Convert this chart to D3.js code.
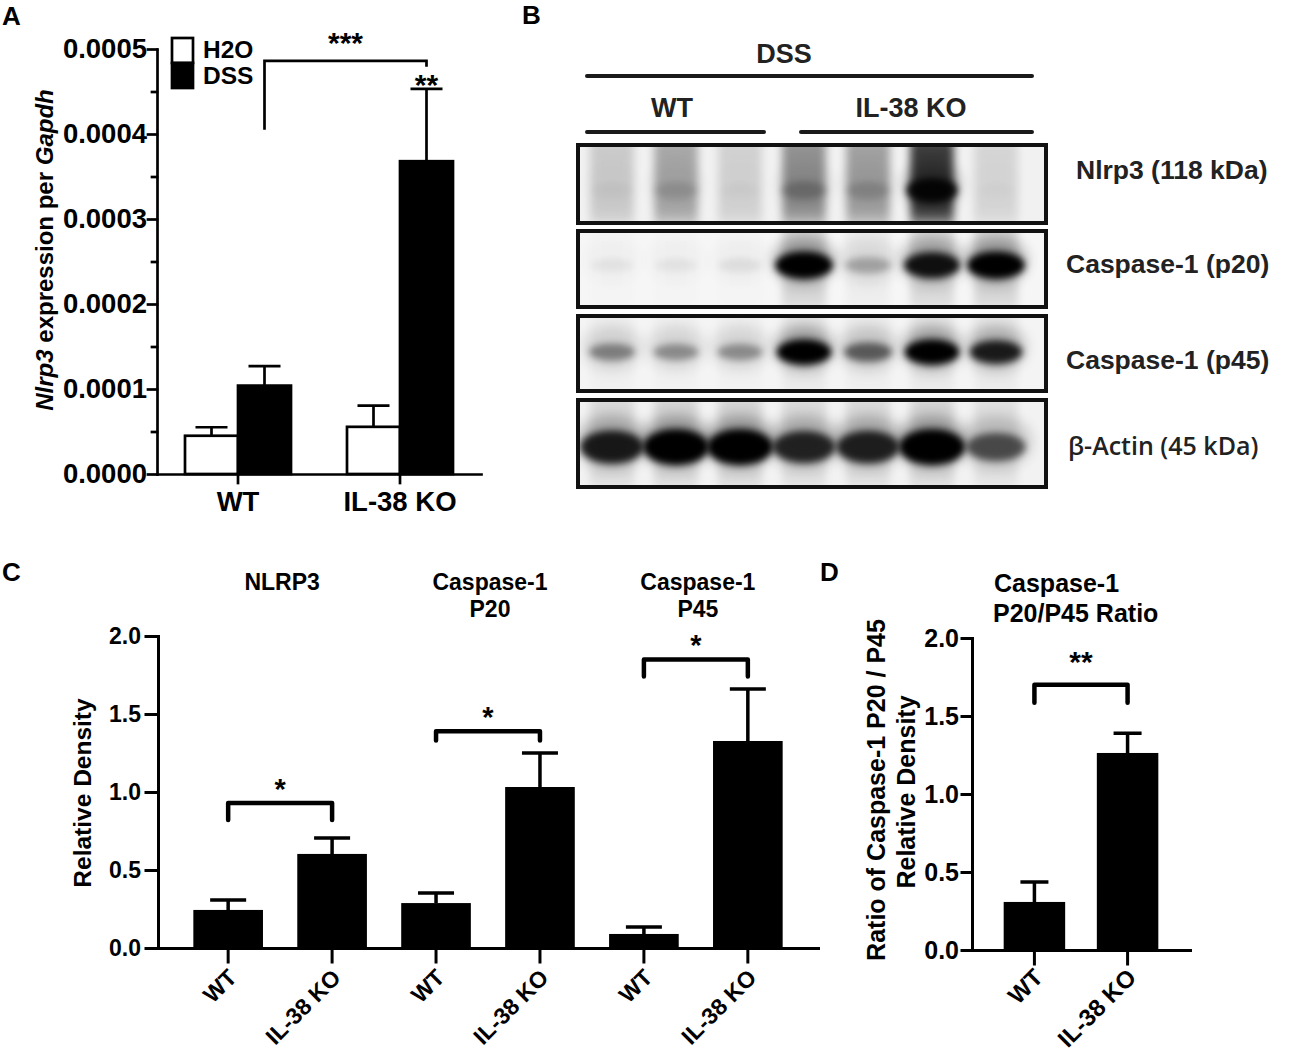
<!DOCTYPE html>
<html>
<head>
<meta charset="utf-8">
<script src="https://cdn.jsdelivr.net/npm/d3@7"></script>
<style>
body { margin: 0; background: #fff; }
svg text { font-family: "Liberation Sans", Arial, Helvetica, sans-serif; font-weight: bold; }
</style>
</head>
<body>
<div id="chart"></div>
<script>
// ---- panel A: qPCR ----
const groupsA = ["WT", "IL-38 KO"];
const treatmentsA = ["H2O", "DSS"];
const h2oMean = [0.000045, 0.0000555];
const h2oSem = [0.000010, 0.000025];
const dssMean = [0.000104, 0.000368];
const dssSem = [0.000023, 0.000085];
const ticksA = [0, 0.0001, 0.0002, 0.0003, 0.0004, 0.0005];
const minorTicksA = [0.00005, 0.00015, 0.00025, 0.00035, 0.00045];
const bracketA = [0.000405, 0.000486, 0.000479]; // left leg, top, right leg

// ---- panel B: western blot (band darkness 0..1 per lane) ----
const lanes = ["WT-1", "WT-2", "WT-3", "KO-1", "KO-2", "KO-3", "KO-4"];
const blotLabels = ["Nlrp3 (118 kDa)", "Caspase-1 (p20)", "Caspase-1 (p45)", "β-Actin (45 kDa)"];
const nlrp3Signal = [0.2, 0.38, 0.16, 0.5, 0.42, 0.95, 0.14];
const p20Signal = [0.05, 0.05, 0.07, 1.0, 0.26, 0.9, 1.0];
const p45Signal = [0.4, 0.35, 0.35, 1.0, 0.55, 1.0, 0.85];
const actinSignal = [0.85, 1.0, 1.0, 0.8, 0.82, 1.0, 0.6];

// ---- panel C: densitometry ----
const proteinsC = [["NLRP3"], ["Caspase-1", "P20"], ["Caspase-1", "P45"]];
const genotypes = ["WT", "IL-38 KO"];
const wtDensity = [0.244, 0.288, 0.090];
const wtSem = [0.064, 0.064, 0.045];
const koDensity = [0.603, 1.032, 1.327];
const koSem = [0.102, 0.218, 0.333];
const sigC = ["*", "*", "*"];
const bracketTopC = [0.93, 1.39, 1.85];
const bracketLegC = [0.82, 1.33, 1.74];
const ticksCD = [0, 0.5, 1.0, 1.5, 2.0];

// ---- panel D: p20/p45 ratio ----
const ratioMean = [0.308, 1.263];
const ratioSem = [0.128, 0.127];
const sigD = "**";
const bracketD = [1.585, 1.70];

const svg = d3.select("#chart").append("svg")
    .attr("width", 1301)
    .attr("height", 1053);

function styleAxis(g, fs, sw) {
    g.attr("font-size", fs).attr("font-family", null);
    g.selectAll("path, line").attr("stroke", "#000").attr("stroke-width", sw).attr("stroke-linecap", "square");
    g.selectAll("text").attr("fill", "#000");
}

// panel letters
svg.append("text").attr("x", 2).attr("y", 25).attr("font-size", 26).text("A");
svg.append("text").attr("x", 522).attr("y", 24).attr("font-size", 26).text("B");
svg.append("text").attr("x", 2).attr("y", 581).attr("font-size", 26).text("C");
svg.append("text").attr("x", 820).attr("y", 581).attr("font-size", 26).text("D");

// ================= A =================
const gA = svg.append("g");
const xA = d3.scaleBand().domain(groupsA).range([157, 481]);
const xA2 = d3.scaleBand().domain(treatmentsA).range([-53, 53]);
const yA = d3.scaleLinear().domain([0, 0.0005]).range([474, 49]);

const rowsA = groupsA.flatMap((g, i) => [
    { g, t: "H2O", m: h2oMean[i], s: h2oSem[i] },
    { g, t: "DSS", m: dssMean[i], s: dssSem[i] }
]);
const cxA = d => xA(d.g) + xA.bandwidth() / 2 + xA2(d.t) + xA2.bandwidth() / 2;

// error bars (behind bars)
gA.selectAll(".errA").data(rowsA).enter().append("path")
    .attr("d", d => `M${cxA(d)},${yA(d.m)}V${yA(d.m + d.s)}M${cxA(d) - 16},${yA(d.m + d.s)}H${cxA(d) + 16}`)
    .attr("stroke", "#000").attr("stroke-width", 2.7).attr("fill", "none");

gA.selectAll(".barA").data(rowsA).enter().append("rect")
    .attr("x", d => xA(d.g) + xA.bandwidth() / 2 + xA2(d.t))
    .attr("width", xA2.bandwidth())
    .attr("y", d => yA(d.m))
    .attr("height", d => yA(0) - yA(d.m))
    .attr("fill", d => d.t === "H2O" ? "#fff" : "#000")
    .attr("stroke", "#000").attr("stroke-width", 2.7);

gA.append("g").attr("transform", "translate(157,0)")
    .call(d3.axisLeft(yA).tickValues(minorTicksA).tickSize(5).tickFormat(""))
    .call(g => { styleAxis(g, 26, 2.7); g.select(".domain").remove(); });
gA.append("g").attr("transform", "translate(157,0)")
    .call(d3.axisLeft(yA).tickValues(ticksA).tickFormat(d3.format(".4f")).tickSize(9).tickPadding(1).tickSizeOuter(0))
    .call(g => styleAxis(g, 27.5, 2.7));
gA.append("g").attr("transform", "translate(0,474)")
    .call(d3.axisBottom(xA).tickSize(9).tickPadding(8).tickSizeOuter(0))
    .call(g => styleAxis(g, 27.5, 2.7));

gA.append("text")
    .attr("transform", "translate(53,250) rotate(-90)")
    .attr("text-anchor", "middle").attr("font-size", 24)
    .call(t => {
        t.append("tspan").attr("font-style", "italic").text("Nlrp3");
        t.append("tspan").text(" expression per ");
        t.append("tspan").attr("font-style", "italic").text("Gapdh");
    });

// legend
const legA = gA.append("g");
legA.selectAll("rect").data(treatmentsA).enter().append("rect")
    .attr("x", 172).attr("width", 21)
    .attr("y", (d, i) => 38 + i * 25).attr("height", 25)
    .attr("fill", d => d === "H2O" ? "#fff" : "#000")
    .attr("stroke", "#000").attr("stroke-width", 2.7);
legA.selectAll("text").data(treatmentsA).enter().append("text")
    .attr("x", 203).attr("y", (d, i) => 58 + i * 26)
    .attr("font-size", 24.5).text(d => d);

// significance
const wtDss = rowsA[1], koDss = rowsA[3];
gA.append("path")
    .attr("d", `M${cxA(wtDss)},${yA(bracketA[0])}V${yA(bracketA[1])}H${cxA(koDss)}V${yA(bracketA[2])}`)
    .attr("fill", "none").attr("stroke", "#000").attr("stroke-width", 2.7);
gA.append("text").attr("x", (cxA(wtDss) + cxA(koDss)) / 2).attr("y", yA(bracketA[1]) - 8)
    .attr("text-anchor", "middle").attr("font-size", 30).text("***");
gA.append("text").attr("x", cxA(koDss)).attr("y", yA(koDss.m + koDss.s) + 6)
    .attr("text-anchor", "middle").attr("font-size", 30).text("**");

// ================= B =================
const gB = svg.append("g");
const xLane = d3.scalePoint().domain(lanes).range([612, 996]);
const laneStep = xLane.step();
const boxX = [578, 1046];
const boxY = [[145, 223], [231, 307], [316, 391], [400, 487]];
const bandPos = [0.58, 0.45, 0.48, 0.54];
const bandSize = [0.9, 1.0, 0.95, 1.15];
const smearAmt = [0.8, 0.14, 0.05, 0.12];
const coreGamma = [2.2, 1, 1, 1];
const bgFill = ["#f1f1f1", "#f6f6f6", "#f4f4f4", "#f2f2f2"];
const labelPos = [[1076, 179], [1066, 273], [1066, 369], [1068, 455]];
const signals = [nlrp3Signal, p20Signal, p45Signal, actinSignal];

const defs = svg.append("defs");
defs.append("filter").attr("id", "blurCore").attr("x", "-50%").attr("y", "-50%").attr("width", "200%").attr("height", "200%")
    .append("feGaussianBlur").attr("stdDeviation", 3.5);
defs.append("filter").attr("id", "blurHalo").attr("x", "-50%").attr("y", "-50%").attr("width", "200%").attr("height", "200%")
    .append("feGaussianBlur").attr("stdDeviation", 7);
defs.append("filter").attr("id", "blurSmear").attr("x", "-50%").attr("y", "-50%").attr("width", "200%").attr("height", "200%")
    .append("feGaussianBlur").attr("stdDeviation", "4 9");

gB.append("text").attr("x", 784).attr("y", 63).attr("text-anchor", "middle")
    .attr("font-size", 27).attr("fill", "#222").text("DSS");
gB.append("path").attr("d", `M587,76H1032`).attr("stroke", "#1a1a1a").attr("stroke-width", 4).attr("stroke-linecap", "round");
gB.append("text").attr("x", d3.mean(lanes.slice(0, 3), xLane) - 4).attr("y", 117).attr("text-anchor", "middle")
    .attr("font-size", 27).attr("fill", "#222").text("WT");
gB.append("text").attr("x", d3.mean(lanes.slice(3), xLane) + 11).attr("y", 117).attr("text-anchor", "middle")
    .attr("font-size", 27).attr("fill", "#222").text("IL-38 KO");
gB.append("path").attr("d", `M587,132H764M801,132H1032`).attr("stroke", "#1a1a1a").attr("stroke-width", 4).attr("stroke-linecap", "round");

signals.forEach((sig, r) => {
    const [y0, y1] = boxY[r];
    const h = y1 - y0;
    const cy = y0 + h * bandPos[r];
    defs.append("clipPath").attr("id", "clip" + r)
        .append("rect").attr("x", boxX[0]).attr("y", y0).attr("width", boxX[1] - boxX[0]).attr("height", h);
    const g = gB.append("g").attr("clip-path", `url(#clip${r})`);
    g.append("rect").attr("x", boxX[0]).attr("y", y0).attr("width", boxX[1] - boxX[0]).attr("height", h)
        .attr("fill", bgFill[r]);
    const data = lanes.map((l, i) => ({ l, s: sig[i] }));
    g.selectAll(".smear").data(data).enter().append("rect")
        .attr("x", d => xLane(d.l) - laneStep * 0.34).attr("width", laneStep * 0.68)
        .attr("y", y0 - 12).attr("height", h * 0.85 + 24)
        .attr("fill", "#000").attr("opacity", d => d.s * smearAmt[r])
        .attr("filter", "url(#blurSmear)");
    g.selectAll(".halo").data(data).enter().append("ellipse")
        .attr("cx", d => xLane(d.l)).attr("cy", cy - h * 0.06)
        .attr("rx", laneStep * 0.48 * bandSize[r]).attr("ry", h * 0.3)
        .attr("fill", "#000").attr("opacity", d => Math.pow(d.s, coreGamma[r]) * 0.3)
        .attr("filter", "url(#blurHalo)");
    g.selectAll(".core").data(data).enter().append("ellipse")
        .attr("cx", d => xLane(d.l)).attr("cy", cy)
        .attr("rx", d => laneStep * (0.33 + 0.12 * d.s) * bandSize[r])
        .attr("ry", d => h * (0.08 + 0.1 * d.s) * bandSize[r])
        .attr("fill", "#000").attr("opacity", d => Math.min(1, Math.pow(d.s, coreGamma[r])))
        .attr("filter", "url(#blurCore)");
    gB.append("rect").attr("x", boxX[0]).attr("y", y0).attr("width", boxX[1] - boxX[0]).attr("height", h)
        .attr("fill", "none").attr("stroke", "#111").attr("stroke-width", 4);
    const lab = gB.append("text").attr("x", labelPos[r][0]).attr("y", labelPos[r][1])
        .attr("font-size", 26.5).attr("fill", "#222").text(blotLabels[r]);
    if (r === 3) lab.style("font-family", "'Open Sans', Lato, sans-serif").style("font-weight", "600").attr("font-size", 25);
});

// ================= C =================
const gC = svg.append("g");
const rowsC = proteinsC.flatMap((p, i) => [
    { key: p.join(" ") + "|WT", p: i, m: wtDensity[i], s: wtSem[i] },
    { key: p.join(" ") + "|IL-38 KO", p: i, m: koDensity[i], s: koSem[i] }
]);
const xC = d3.scaleBand().domain(rowsC.map(d => d.key)).range([158, 818]).paddingInner(0.33).paddingOuter(0.34);
const yC = d3.scaleLinear().domain([0, 2]).range([948, 636]);
const cxC = k => xC(k) + xC.bandwidth() / 2;

gC.selectAll(".errC").data(rowsC).enter().append("path")
    .attr("d", d => `M${cxC(d.key)},${yC(d.m)}V${yC(d.m + d.s)}M${cxC(d.key) - 18},${yC(d.m + d.s)}H${cxC(d.key) + 18}`)
    .attr("stroke", "#000").attr("stroke-width", 3.5).attr("fill", "none");
gC.selectAll(".barC").data(rowsC).enter().append("rect")
    .attr("x", d => xC(d.key)).attr("width", xC.bandwidth())
    .attr("y", d => yC(d.m)).attr("height", d => yC(0) - yC(d.m))
    .attr("fill", "#000");

gC.append("g").attr("transform", "translate(158,0)")
    .call(d3.axisLeft(yC).tickValues(ticksCD).tickFormat(d3.format(".1f")).tickSize(12).tickPadding(5).tickSizeOuter(0))
    .call(g => styleAxis(g, 23, 3));
gC.append("g").attr("transform", "translate(0,948)")
    .call(d3.axisBottom(xC).tickSize(14).tickSizeOuter(0).tickFormat(d => d.split("|")[1]))
    .call(g => styleAxis(g, 23, 3))
    .call(g => g.selectAll("text")
        .attr("y", null).attr("dy", null)
        .attr("text-anchor", "end")
        .attr("transform", "translate(10,31) rotate(-45)"));

gC.append("text").attr("transform", "translate(91,793) rotate(-90)")
    .attr("text-anchor", "middle").attr("font-size", 24.5).text("Relative Density");

proteinsC.forEach((lines, i) => {
    const mid = (cxC(rowsC[2 * i].key) + cxC(rowsC[2 * i + 1].key)) / 2;
    const t = gC.append("text").attr("text-anchor", "middle").attr("font-size", 23).attr("y", 590);
    lines.forEach((ln, j) => t.append("tspan").attr("x", mid + 2).attr("dy", j ? 27 : 0).text(ln));
    const a = cxC(rowsC[2 * i].key), b = cxC(rowsC[2 * i + 1].key);
    gC.append("path")
        .attr("d", `M${a},${yC(bracketLegC[i])}V${yC(bracketTopC[i])}H${b}V${yC(bracketLegC[i])}`)
        .attr("fill", "none").attr("stroke", "#000").attr("stroke-width", 4.5)
        .attr("stroke-linejoin", "round").attr("stroke-linecap", "round");
    gC.append("text").attr("x", (a + b) / 2).attr("y", yC(bracketTopC[i]) - 4)
        .attr("text-anchor", "middle").attr("font-size", 29).text(sigC[i]);
});

// ================= D =================
const gD = svg.append("g");
const rowsD = genotypes.map((g, i) => ({ g, m: ratioMean[i], s: ratioSem[i] }));
const xD = d3.scaleBand().domain(genotypes).range([972, 1190]).paddingInner(0.34).paddingOuter(0.34);
const yD = d3.scaleLinear().domain([0, 2]).range([950, 638]);
const cxD = g => xD(g) + xD.bandwidth() / 2;

gD.selectAll(".errD").data(rowsD).enter().append("path")
    .attr("d", d => `M${cxD(d.g)},${yD(d.m)}V${yD(d.m + d.s)}M${cxD(d.g) - 14},${yD(d.m + d.s)}H${cxD(d.g) + 14}`)
    .attr("stroke", "#000").attr("stroke-width", 3.5).attr("fill", "none");
gD.selectAll(".barD").data(rowsD).enter().append("rect")
    .attr("x", d => xD(d.g)).attr("width", xD.bandwidth())
    .attr("y", d => yD(d.m)).attr("height", d => yD(0) - yD(d.m))
    .attr("fill", "#000");

gD.append("g").attr("transform", "translate(972,0)")
    .call(d3.axisLeft(yD).tickValues(ticksCD).tickFormat(d3.format(".1f")).tickSize(10).tickPadding(3).tickSizeOuter(0))
    .call(g => styleAxis(g, 25, 3));
gD.append("g").attr("transform", "translate(0,950)")
    .call(d3.axisBottom(xD).tickSize(14).tickSizeOuter(0))
    .call(g => styleAxis(g, 24, 3))
    .call(g => g.selectAll("text")
        .attr("y", null).attr("dy", null)
        .attr("text-anchor", "end")
        .attr("transform", "translate(10,29) rotate(-45)"));

gD.append("text").attr("transform", "translate(885,790) rotate(-90)")
    .attr("text-anchor", "middle").attr("font-size", 25).text("Ratio of Caspase-1 P20 / P45");
gD.append("text").attr("transform", "translate(915,792) rotate(-90)")
    .attr("text-anchor", "middle").attr("font-size", 25).text("Relative Density");

gD.append("text").attr("x", 994).attr("y", 592).attr("font-size", 25).text("Caspase-1");
gD.append("text").attr("x", 993).attr("y", 622).attr("font-size", 25).text("P20/P45 Ratio");

const aD = cxD(genotypes[0]), bD = cxD(genotypes[1]);
gD.append("path")
    .attr("d", `M${aD},${yD(bracketD[0])}V${yD(bracketD[1])}H${bD}V${yD(bracketD[0])}`)
    .attr("fill", "none").attr("stroke", "#000").attr("stroke-width", 4.5)
    .attr("stroke-linejoin", "round").attr("stroke-linecap", "round");
gD.append("text").attr("x", (aD + bD) / 2).attr("y", yD(bracketD[1]) - 13)
    .attr("text-anchor", "middle").attr("font-size", 30).text(sigD);
</script>
</body>
</html>
